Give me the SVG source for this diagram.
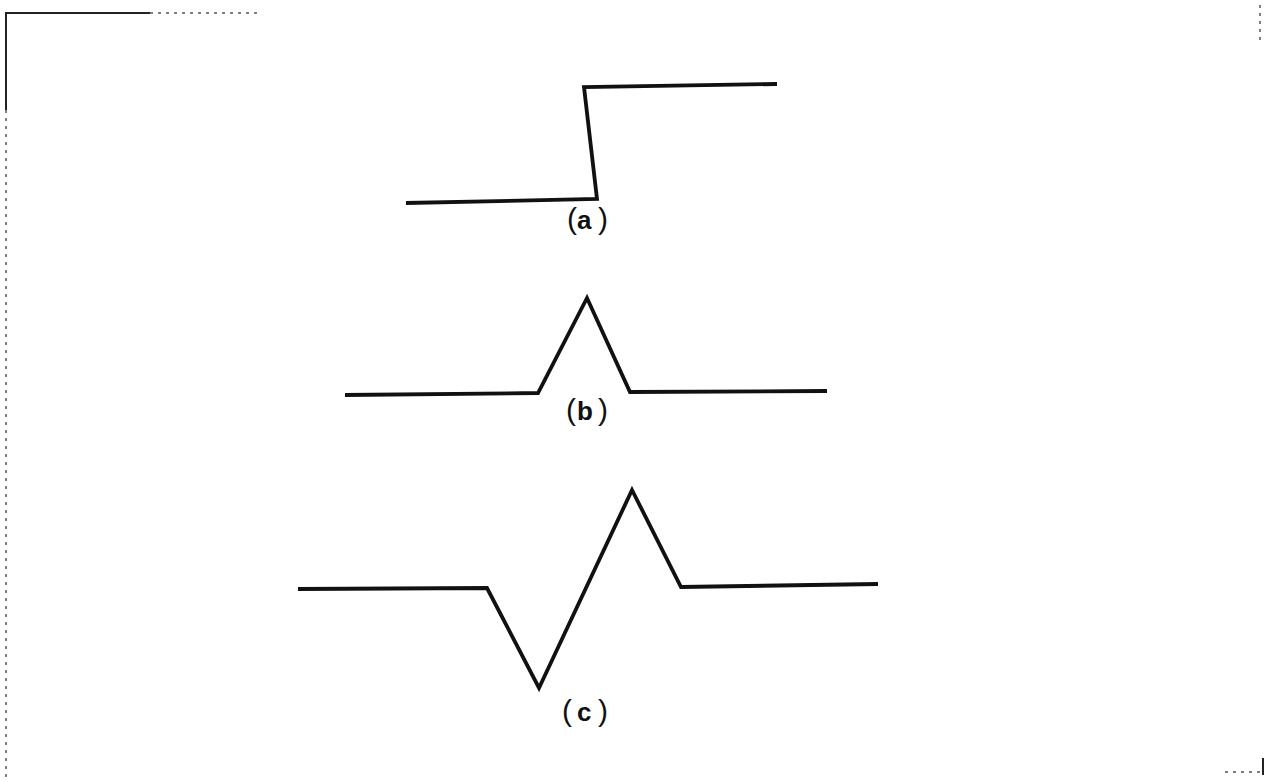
<svg xmlns="http://www.w3.org/2000/svg" width="1266" height="782" viewBox="0 0 1266 782">
<style>
.wave{fill:none;stroke:#111;stroke-width:3.8;stroke-linejoin:miter;stroke-linecap:butt}
.lbl{font-family:"Liberation Sans",Arial,sans-serif;fill:#111}
.let{font-weight:bold;font-size:26px}
.par{font-weight:normal;font-size:30px}
.frame{fill:none;stroke:#222;stroke-width:2}
.faint{fill:none;stroke:#555;stroke-width:1.5;stroke-dasharray:3 5}
</style>
<rect width="1266" height="782" fill="#fff"/>
<g id="frame">
<path class="frame" d="M6,110 L6,13 L150,13"/>
<path class="faint" d="M150,13 L260,13"/>
<path class="faint" d="M6,110 L6,782"/>
<path class="faint" d="M1260,5 L1260,40"/>
<path class="faint" d="M1225,772 L1262,772"/>
<path class="frame" d="M1263,758 L1263,775"/>
</g>
<g id="connectors">
<polyline id="wave-a" class="wave" points="406,203 597,199 584,87 777,84"/>
<polyline id="wave-b" class="wave" points="345,395 538,393 587,298 630,392 827,391"/>
<polyline id="wave-c" class="wave" points="298,589 487,588 539,688 632,490 681,587 878,584"/>
</g>
<g id="label-a"><text class="lbl" y="229"><tspan class="par" x="567">(</tspan><tspan class="let" x="577">a</tspan><tspan class="par" x="598">)</tspan></text></g>
<g id="label-b"><text class="lbl" y="420"><tspan class="par" x="566">(</tspan><tspan class="let" x="577">b</tspan><tspan class="par" x="598">)</tspan></text></g>
<g id="label-c"><text class="lbl" y="721"><tspan class="par" x="562">(</tspan><tspan class="let" x="577">c</tspan><tspan class="par" x="598">)</tspan></text></g>
</svg>
